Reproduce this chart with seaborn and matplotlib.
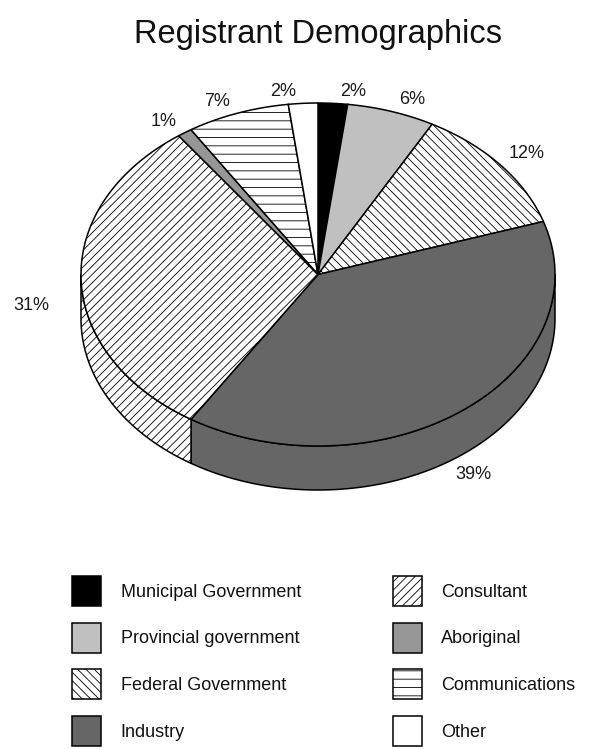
import numpy as np
import matplotlib
matplotlib.use("Agg")
import matplotlib.pyplot as plt
from matplotlib.patches import Polygon, Patch
import seaborn as sns

# ---------------- data ----------------
title = "Registrant Demographics"
categories = ["Municipal Government", "Provincial government", "Federal Government", "Industry",
              "Consultant", "Aboriginal", "Communications", "Other"]
shares = [2, 6, 12, 39, 31, 1, 7, 2]
pct_labels = [f"{v}%" for v in shares]

# ---------------- styles ----------------
face_colors = ["#000000", "#c0c0c0", "#ffffff", "#666666", "#ffffff", "#969696", "#ffffff", "#ffffff"]
hatches = [None, None, "\\\\\\\\", None, "////", None, "--", None]

sns.set_theme(style="white")
plt.rcParams["font.family"] = ["Liberation Sans", "DejaVu Sans"]
plt.rcParams["hatch.linewidth"] = 0.6
plt.rcParams["hatch.color"] = "black"

W, H = 598, 749
fig = plt.figure(figsize=(W / 100, H / 100), dpi=100)
ax = fig.add_axes([0, 0, 1, 1])
ax.set_xlim(0, W)
ax.set_ylim(H, 0)
ax.axis("off")

# pie layout (pixels)
cx, cy, rx, ry, depth = 318, 274.5, 237, 171.5, 44
lw = 1.1

vals = np.array(shares, dtype=float)
frac = vals / vals.sum()
cum = np.concatenate([[0], np.cumsum(frac)])
start = 90 - 360 * cum[:-1]
end = 90 - 360 * cum[1:]


def pt(t_deg, dy=0.0):
    t = np.radians(t_deg)
    return cx + rx * np.cos(t), cy - ry * np.sin(t) + dy


# side walls (front half only: angles -180..0)
for i in range(len(vals)):
    a, b = start[i], end[i]
    lo, hi = max(b, -180), min(a, 0)
    if lo < hi:
        ts = np.linspace(hi, lo, 120)
        top = np.column_stack(pt(ts))
        bot = np.column_stack(pt(ts[::-1], depth))
        ax.add_patch(Polygon(np.vstack([top, bot]), closed=True, facecolor=face_colors[i],
                             edgecolor="black", hatch=hatches[i], linewidth=lw, zorder=2))

# top faces
for i in range(len(vals)):
    ts = np.linspace(start[i], end[i], max(int(abs(start[i] - end[i]) * 2), 8))
    arc = np.column_stack(pt(ts))
    verts = np.vstack([[cx, cy], arc])
    ax.add_patch(Polygon(verts, closed=True, facecolor=face_colors[i], edgecolor="black",
                         hatch=hatches[i], linewidth=lw, zorder=3))

# percentage labels
renderer = fig.canvas.get_renderer()
for i in range(len(vals)):
    mid = (start[i] + end[i]) / 2
    c, s = np.cos(np.radians(mid)), np.sin(np.radians(mid))
    px, py = pt(mid)
    t = ax.text(px, py, pct_labels[i], fontsize=13, ha="center", va="center", color="#1a1a1a")
    bb = t.get_window_extent(renderer=renderer)
    hw, hh = bb.width / 2, bb.height / 2
    if s >= 0:
        dx = np.clip(c * 15, -1, 1) * (hw + 8)
        dy = -np.clip(s * 3, -1, 1) * (hh + 3)
    else:
        py += depth * (0.5 + 0.5 * min(1.0, -s * 3))
        gap = 8 + 24 * max(0.0, abs(c) - 0.9) / 0.1
        dx = np.sign(c) * c * c * (hw + gap)
        dy = np.clip(-s * 3, 0, 1) * (hh + 12)
    t.set_position((px + dx, py + dy))

# title
ax.text(318, 35, title, fontsize=23.5, ha="center", va="center", color="#111111")

# legend
handles = [Patch(facecolor=face_colors[i], edgecolor="black", hatch=hatches[i], linewidth=lw)
           for i in range(len(vals))]
leg = ax.legend(handles, categories, ncol=2, loc="upper left",
                bbox_to_anchor=(72 / W, 1 - 576 / H), frameon=False, fontsize=13,
                handlelength=1.6, handleheight=2.18, labelspacing=0.92,
                handletextpad=1.1, columnspacing=5.07, borderpad=0, borderaxespad=0)
for txt in leg.get_texts():
    txt.set_color("#111111")

fig.savefig("out.png", dpi=100)
